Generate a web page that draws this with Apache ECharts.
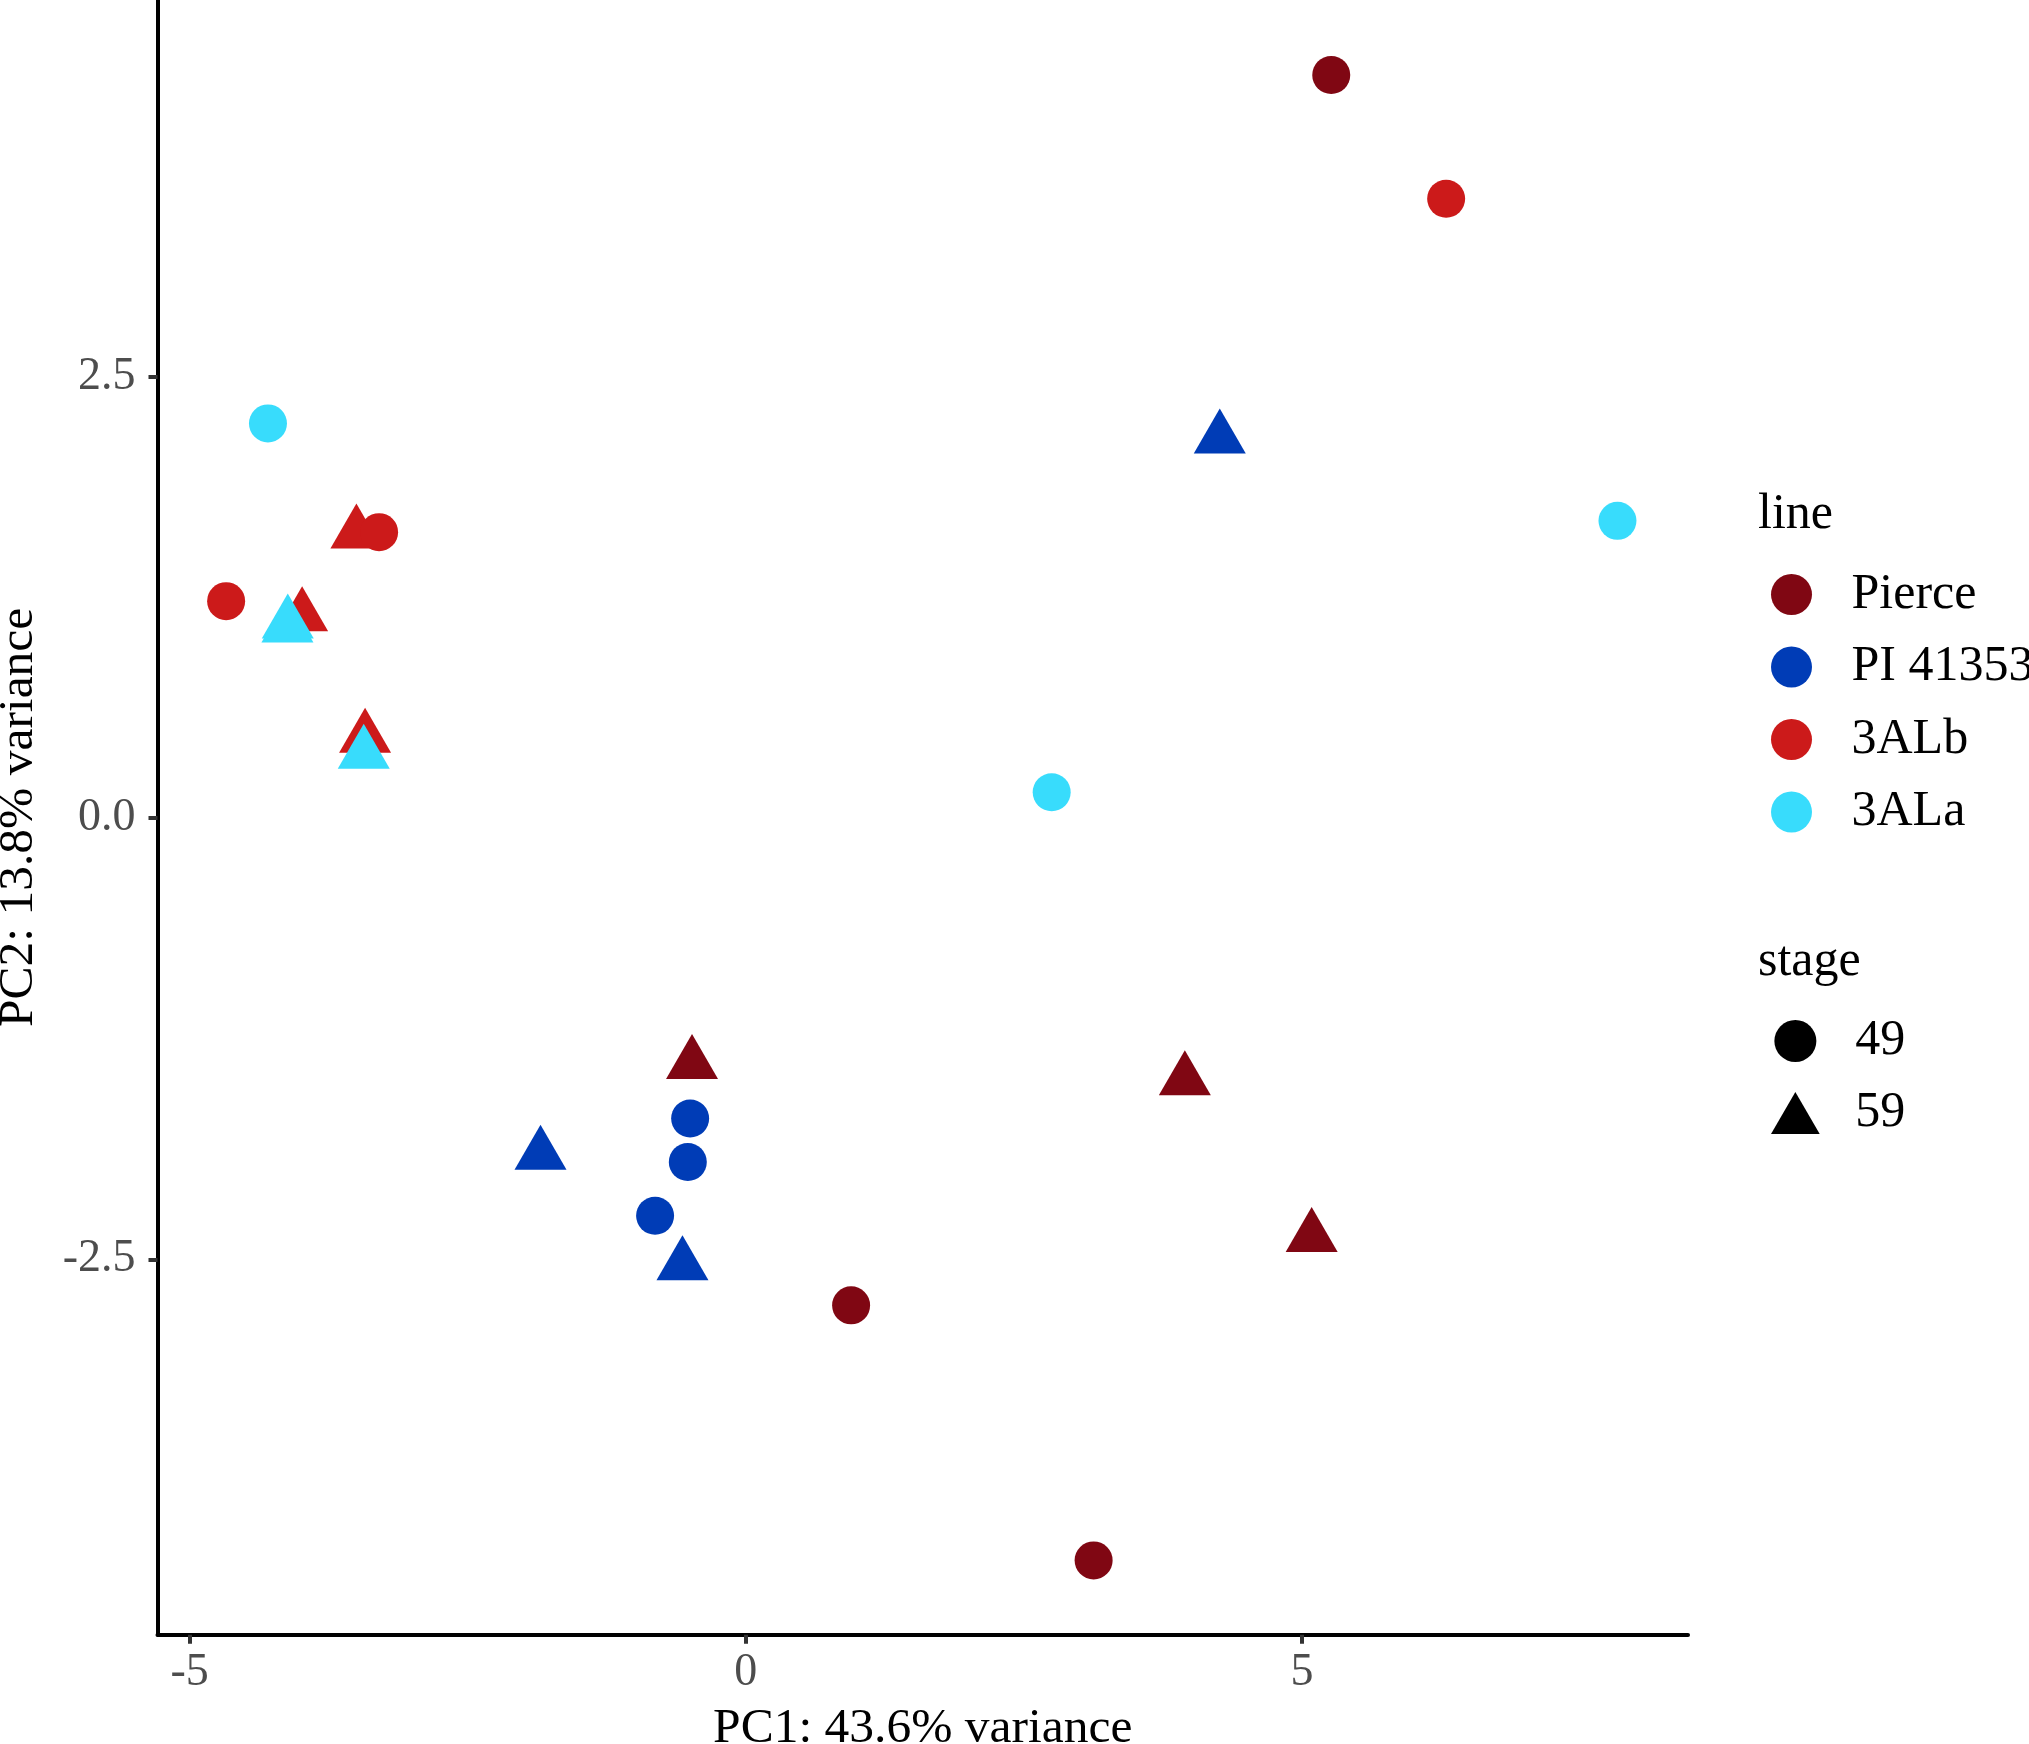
<!DOCTYPE html>
<html lang="en">
<head>
	<meta charset="UTF-8">
	<title>PCA plot</title>
	<style>
		body{
			margin: 0;
			background: #fff;
		}
		#main{
			width: 2029px;
			height: 1744px;
		}
	</style>
	<script src="https://cdn.jsdelivr.net/npm/echarts@6/dist/echarts.min.js"></script>
</head>
<body>
	<div id="main"></div>
	<script>
		// 数据: [PC1, PC2]
		var lines = ['Pierce', 'PI 41353', '3ALb', '3ALa'];
		var lineColors = ['#800713', '#003CB6', '#CC1A1A', '#38DCFC'];
		var stages = ['49', '59'];

		var pierce49 = [[5.263, 4.210], [0.947, -2.761], [3.127, -4.206]];
		var pierce59 = [[-0.483, -1.394], [3.947, -1.485], [5.087, -2.374]];
		var pi49 = [[-0.500, -1.702], [-0.521, -1.949], [-0.815, -2.253]];
		var pi59 = [[-1.845, -1.907], [-0.569, -2.534], [4.261, 2.151]];
		var alb49 = [[-4.671, 1.229], [-3.296, 1.620], [6.296, 3.509]];
		var alb59 = [[-3.500, 1.612], [-3.988, 1.144], [-3.422, 0.455]];
		var ala49 = [[-4.295, 2.236], [2.750, 0.146], [7.836, 1.684]];
		var ala59 = [[-4.120, 1.079], [-4.117, 1.103], [-3.434, 0.364]];

		var xTicks = [-5, 0, 5];
		var yTicks = [-2.5, 0, 2.5];

		var stage49 = [pierce49, pi49, alb49, ala49];
		var stage59 = [pierce59, pi59, alb59, ala59];

		var font = 'Liberation Serif, Times New Roman, serif';
		var triPath = 'path://M58,0L116,100L0,100Z';

		var series = [];
		// 先画三角形, 再画圆
		lines.forEach(function(name, i){
			series.push({
				name: name,
				type: 'scatter',
				symbol: 'triangle',
				symbolSize: [52, 45],
				symbolOffset: [0, -7.5],
				itemStyle: {color: lineColors[i], opacity: 1},
				emphasis: {disabled: true},
				data: stage59[i]
			});
		});
		lines.forEach(function(name, i){
			series.push({
				name: name,
				type: 'scatter',
				symbol: 'circle',
				symbolSize: 38,
				itemStyle: {color: lineColors[i], opacity: 1},
				emphasis: {disabled: true},
				data: stage49[i]
			});
		});
		// stage 图例用的空系列
		series.push({name: stages[0], type: 'scatter', symbol: 'circle', color: '#000', itemStyle: {color: '#000', opacity: 1}, data: []});
		series.push({name: stages[1], type: 'scatter', symbol: 'triangle', color: '#000', itemStyle: {color: '#000', opacity: 1}, data: []});

		var myChart = echarts.init(document.getElementById('main'));

		var option = {
			backgroundColor: '#fff',
			animation: false,
			grid: {
				left: 157.5,
				right: 341,
				top: 0,
				bottom: 109.3,
				containLabel: false,
				outerBoundsMode: 'none'
			},
			xAxis: {
				type: 'value',
				min: -5.288,
				max: 8.47,
				name: 'PC1: 43.6% variance',
				nameLocation: 'middle',
				nameGap: 69,
				nameTextStyle: {fontFamily: font, fontSize: 49.5, color: '#000'},
				splitLine: {show: false},
				axisLine: {show: true, onZero: false, lineStyle: {color: '#000', width: 4}},
				axisTick: {show: true, customValues: xTicks, length: 9, lineStyle: {color: '#333', width: 4}},
				axisLabel: {
					customValues: xTicks,
					margin: 15,
					fontFamily: font,
					fontSize: 46,
					color: '#4D4D4D'
				}
			},
			yAxis: {
				type: 'value',
				min: -4.627,
				max: 4.635,
				name: 'PC2: 13.8% variance',
				nameLocation: 'middle',
				nameGap: 114,
				nameRotate: 90,
				nameTextStyle: {fontFamily: font, fontSize: 49.5, color: '#000'},
				splitLine: {show: false},
				axisLine: {show: true, onZero: false, lineStyle: {color: '#000', width: 4}},
				axisTick: {show: true, customValues: yTicks, length: 9, lineStyle: {color: '#333', width: 4}},
				axisLabel: {
					customValues: yTicks,
					margin: 22,
					fontFamily: font,
					fontSize: 46,
					color: '#4D4D4D',
					formatter: function(v){ return v.toFixed(1); }
				}
			},
			legend: [{
				orient: 'vertical',
				left: 1771,
				top: 569.5,
				padding: 0,
				itemWidth: 110,
				itemHeight: 41,
				itemGap: 22.5,
				selectedMode: false,
				textStyle: {fontFamily: font, fontSize: 50, color: '#000', width: 120, overflow: 'none'},
				data: lines.map(function(n, i){ return {name: n, icon: 'circle', itemStyle: {color: lineColors[i]}}; })
			}, {
				orient: 'vertical',
				left: 1771,
				top: 1016,
				padding: 0,
				itemWidth: 110,
				itemHeight: 42,
				itemGap: 22,
				selectedMode: false,
				itemStyle: {color: '#000', opacity: 1, borderWidth: 0},
				textStyle: {fontFamily: font, fontSize: 50, color: '#000', width: 120, overflow: 'none'},
				data: [
					{name: stages[0], icon: 'circle', itemStyle: {color: '#000', opacity: 1}},
					{name: stages[1], icon: triPath, itemStyle: {color: '#000', opacity: 1}}
				]
			}],
			graphic: [{
				type: 'text',
				left: 1758,
				top: 490,
				style: {text: 'line', font: '50px ' + font, fill: '#000'}
			}, {
				type: 'text',
				left: 1758,
				top: 937,
				style: {text: 'stage', font: '50px ' + font, fill: '#000'}
			}],
			series: series
		};

		myChart.setOption(option);
	</script>
</body>
</html>
